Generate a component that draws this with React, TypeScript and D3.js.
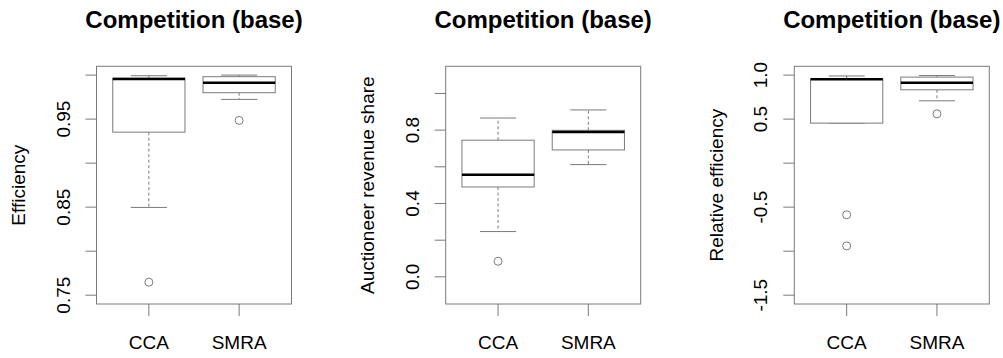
import React from "react";
import * as d3 from "d3";

// Groups shown on every panel
const categories = ["CCA", "SMRA"];

// Box statistics per group: [lower whisker, Q1, median, Q3, upper whisker]
const efficiencyStats = [
  [0.8497, 0.9352, 0.9955, 0.9965, 0.9993],
  [0.9724, 0.98, 0.9914, 0.9982, 1.0],
];
const efficiencyOutliers = [[0.7648], [0.9485]];
const efficiencyTicks = [0.75, 0.8, 0.85, 0.9, 0.95, 1.0];
const efficiencyTickLabels = ["0.75", "", "0.85", "", "0.95", ""];

const revenueStats = [
  [0.247, 0.49, 0.557, 0.745, 0.866],
  [0.612, 0.692, 0.79, 0.799, 0.91],
];
const revenueOutliers = [[0.085], []];
const revenueTicks = [0, 0.2, 0.4, 0.6, 0.8, 1.0];
const revenueTickLabels = ["0.0", "", "0.4", "", "0.8", ""];

const relativeStats = [
  [0.4545, 0.4545, 0.952, 0.958, 0.99],
  [0.708, 0.833, 0.912, 0.977, 0.995],
];
const relativeOutliers = [[-0.587, -0.94], [0.56]];
const relativeTicks = [-1.5, -1.0, -0.5, 0, 0.5, 1.0];
const relativeTickLabels = ["-1.5", "", "-0.5", "", "0.5", "1.0"];

const FONT = "'Liberation Sans', Arial, Helvetica, sans-serif";
const LINE = "#7a7a7a";

type PanelProps = {
  left: number;
  title: string;
  yTitle: string;
  ylim: [number, number];
  stats: number[][];
  outliers: number[][];
  ticks: number[];
  tickLabels: string[];
};

function Panel({ left, title, yTitle, ylim, stats, outliers, ticks, tickLabels }: PanelProps) {
  const width = 195;
  const top = 66.3;
  const bottom = 304;
  const right = left + width;
  const ext = (ylim[1] - ylim[0]) * 0.04;
  const y = d3.scaleLinear().domain([ylim[0] - ext, ylim[1] + ext]).range([bottom, top]);
  const x = d3.scaleLinear().domain([0.42, 2.58]).range([left, right]);
  const halfBox = x(1.4) - x(1);
  const halfStaple = halfBox / 2;
  const cx = (left + right) / 2;
  const midY = (top + bottom) / 2;

  return (
    <g>
      <text x={cx} y={28} textAnchor="middle" fontFamily={FONT} fontWeight="bold" fontSize={24}>
        {title}
      </text>
      <rect x={left} y={top} width={width} height={bottom - top} fill="none" stroke={LINE} strokeWidth={1} />
      {ticks.map((t, i) => (
        <g key={i}>
          <line x1={left - 11} x2={left} y1={y(t)} y2={y(t)} stroke={LINE} />
          {tickLabels[i] && (
            <text
              transform={`translate(${left - 27},${y(t)}) rotate(-90)`}
              textAnchor="middle"
              fontFamily={FONT}
              fontSize={19}
            >
              {tickLabels[i]}
            </text>
          )}
        </g>
      ))}
      <text
        transform={`translate(${left - 71.5},${midY}) rotate(-90)`}
        textAnchor="middle"
        fontFamily={FONT}
        fontSize={19}
      >
        {yTitle}
      </text>
      {categories.map((c, i) => {
        const px = x(i + 1);
        const [lo, q1, med, q3, hi] = stats[i];
        return (
          <g key={c}>
            <line x1={px} x2={px} y1={bottom} y2={bottom + 12} stroke={LINE} />
            <text x={px} y={349} textAnchor="middle" fontFamily={FONT} fontSize={19}>
              {c}
            </text>
            {/* whiskers */}
            <line x1={px} x2={px} y1={y(q3)} y2={y(hi)} stroke={LINE} strokeDasharray="3,2.5" />
            <line x1={px} x2={px} y1={y(q1)} y2={y(lo)} stroke={LINE} strokeDasharray="3,2.5" />
            <line x1={px - halfStaple} x2={px + halfStaple} y1={y(hi)} y2={y(hi)} stroke={LINE} />
            <line x1={px - halfStaple} x2={px + halfStaple} y1={y(lo)} y2={y(lo)} stroke={LINE} />
            {/* box */}
            <rect
              x={px - halfBox}
              y={y(q3)}
              width={halfBox * 2}
              height={y(q1) - y(q3)}
              fill="white"
              stroke={LINE}
            />
            <line x1={px - halfBox} x2={px + halfBox} y1={y(med)} y2={y(med)} stroke="#000" strokeWidth={2.5} />
            {outliers[i].map((o, k) => (
              <circle key={k} cx={px} cy={y(o)} r={4} fill="none" stroke={LINE} />
            ))}
          </g>
        );
      })}
    </g>
  );
}

export default function App() {
  return (
    <svg
      width={1003}
      height={358}
      style={{ position: "absolute", left: 0, top: 0, background: "white" }}
    >
      <rect width={1003} height={358} fill="white" />
      <Panel
        left={96.5}
        title="Competition (base)"
        yTitle="Efficiency"
        ylim={[0.75, 1.0]}
        stats={efficiencyStats}
        outliers={efficiencyOutliers}
        ticks={efficiencyTicks}
        tickLabels={efficiencyTickLabels}
      />
      <Panel
        left={445.7}
        title="Competition (base)"
        yTitle="Auctioneer revenue share"
        ylim={[-0.1, 1.1]}
        stats={revenueStats}
        outliers={revenueOutliers}
        ticks={revenueTicks}
        tickLabels={revenueTickLabels}
      />
      <Panel
        left={794.3}
        title="Competition (base)"
        yTitle="Relative efficiency"
        ylim={[-1.5, 1.0]}
        stats={relativeStats}
        outliers={relativeOutliers}
        ticks={relativeTicks}
        tickLabels={relativeTickLabels}
      />
    </svg>
  );
}
